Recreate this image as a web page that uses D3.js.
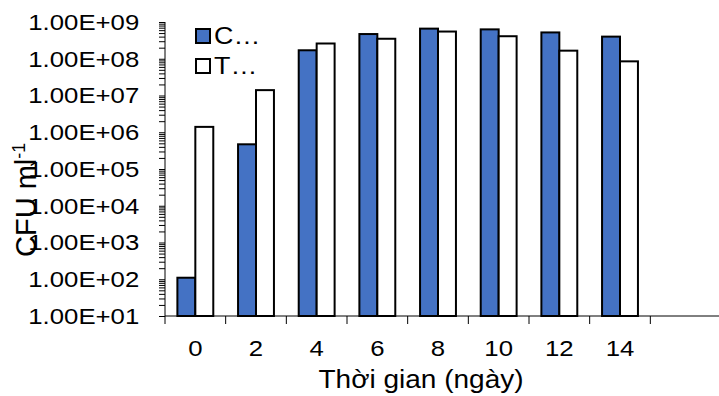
<!DOCTYPE html>
<html>
<head>
<meta charset="utf-8">
<script src="https://cdn.jsdelivr.net/npm/d3@7"></script>
<style>
  body { margin: 0; background: #fff; }
  text { font-family: "Liberation Sans", Arial, sans-serif; fill: #000; }
</style>
</head>
<body>
<svg width="719" height="396"></svg>
<script>
var days = ["0", "2", "4", "6", "8", "10", "12", "14", ""];
var seriesNames = ["C\u2026", "T\u2026"];
var seriesC = [1.1e2, 4.7e5, 1.7e8, 4.7e8, 6.6e8, 6.3e8, 5.2e8, 4.0e8];
var seriesT = [1.4e6, 1.4e7, 2.6e8, 3.5e8, 5.5e8, 4.1e8, 1.66e8, 8.5e7];
var yTicks = [1e1, 1e2, 1e3, 1e4, 1e5, 1e6, 1e7, 1e8, 1e9];

var blue = "#4472C4";
var sx = 1.12; // text in the source image is a bit wider than tall

var svg = d3.select("svg");

var x = d3.scaleBand().domain(days).range([165, 711]).padding(0);
var inner = d3.scaleBand().domain(["C", "T"]).range([0, x.step()])
    .paddingInner(0).paddingOuter(0.69);
var y = d3.scaleLog().domain([1e1, 1e9]).range([316, 22]);

// bars
var rows = days.slice(0, seriesC.length).map(function(d, i) {
    return {day: d, values: [{k: "C", v: seriesC[i]}, {k: "T", v: seriesT[i]}]};
});

svg.append("g")
   .selectAll("g")
   .data(rows)
   .enter()
   .append("g")
   .attr("transform", function(d) { return "translate(" + x(d.day) + ",0)"; })
   .selectAll("rect")
   .data(function(d) { return d.values; })
   .enter()
   .append("rect")
   .attr("x", function(d) { return inner(d.k); })
   .attr("width", inner.bandwidth())
   .attr("y", function(d) { return y(d.v); })
   .attr("height", function(d) { return y(1e1) - y(d.v); })
   .attr("fill", function(d) { return d.k == "C" ? blue : "#fff"; })
   .attr("stroke", "#000")
   .attr("stroke-width", 2);

// y axis: minor ticks then majors with labels
var minor = [];
for (var e = 1; e < 9; e++) {
    for (var m = 2; m < 10; m++) minor.push(m * Math.pow(10, e));
}
svg.append("g")
   .attr("transform", "translate(165,0)")
   .call(d3.axisLeft(y).tickValues(minor).tickSize(6).tickFormat(""))
   .call(function(g) { g.select(".domain").remove(); })
   .selectAll("line").attr("stroke", "#000");

var yAxis = svg.append("g")
   .attr("transform", "translate(165,0)")
   .call(d3.axisLeft(y).tickValues(yTicks).tickSize(6).tickPadding(17)
         .tickFormat(function(d) {
             var p = Math.round(Math.log10(d));
             return "1.00E+" + (p < 10 ? "0" : "") + p;
         }));
yAxis.select(".domain").attr("stroke", "#000").attr("d", "M0,316V22");
yAxis.selectAll("line").attr("stroke", "#000");
yAxis.selectAll("text")
     .style("font-size", "23px")
     .attr("fill", "#000")
     .attr("transform", "scale(" + sx + ",1)");

// x axis
var xg = svg.append("g");
xg.append("line")
  .attr("x1", 165).attr("x2", 719)
  .attr("y1", 316).attr("y2", 316)
  .attr("stroke", "#000").attr("stroke-width", 1);
xg.selectAll(".xt")
  .data(days)
  .enter()
  .append("line")
  .attr("x1", function(d) { return x(d); })
  .attr("x2", function(d) { return x(d); })
  .attr("y1", 316).attr("y2", 324)
  .attr("stroke", "#000");
xg.selectAll(".xl")
  .data(days)
  .enter()
  .append("text")
  .attr("transform", function(d) {
      return "translate(" + (x(d) + x.bandwidth() / 2) + ",356) scale(" + sx + ",1)";
  })
  .attr("text-anchor", "middle")
  .style("font-size", "23px")
  .text(function(d) { return d; });

svg.append("text")
   .attr("transform", "translate(421,388) scale(" + sx + ",1)")
   .attr("text-anchor", "middle")
   .style("font-size", "25px")
   .text("Th\u1eddi gian (ng\u00e0y)");

// y title
var yt = svg.append("text")
   .attr("transform", "translate(36,257) rotate(-90)")
   .style("font-size", "29px");
yt.append("tspan").text("CFU ml");
yt.append("tspan").attr("dy", -11).style("font-size", "18px").text("-1");

// legend
var legend = svg.append("g")
   .selectAll("g")
   .data(seriesNames)
   .enter()
   .append("g")
   .attr("transform", function(d, i) { return "translate(196," + (29 + i * 30) + ")"; });
legend.append("rect")
   .attr("width", 14).attr("height", 14)
   .attr("fill", function(d, i) { return i == 0 ? blue : "#fff"; })
   .attr("stroke", "#000").attr("stroke-width", 2);
legend.append("text")
   .attr("transform", "translate(18,15) scale(" + sx + ",1)")
   .style("font-size", "24px")
   .text(function(d) { return d; });
</script>
</body>
</html>
